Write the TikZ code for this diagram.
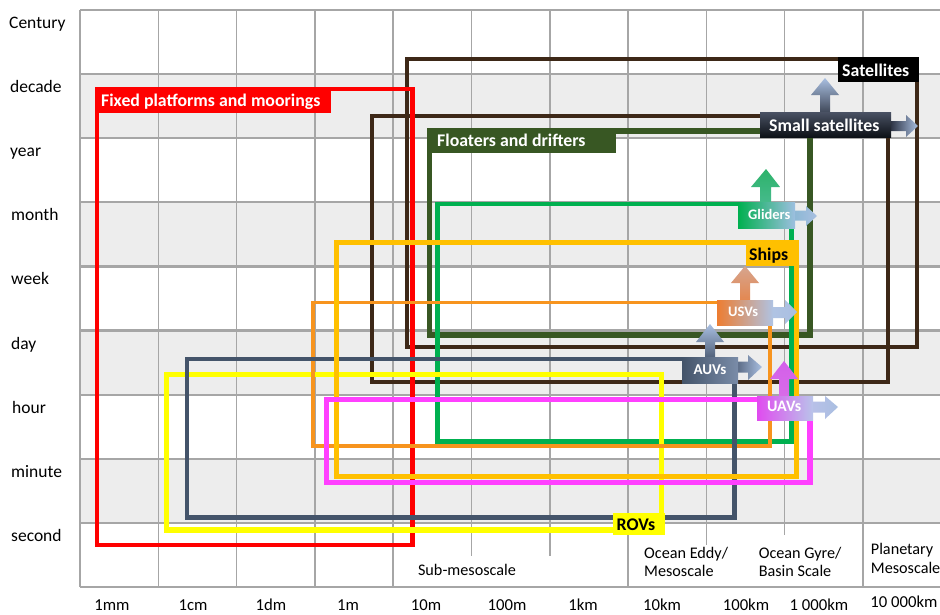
\documentclass[tikz,border=0pt]{standalone}
\usepackage{fontspec}
\setmainfont{Carlito}
\definecolor{gridc}{HTML}{A6A6A6}
\definecolor{rowc}{HTML}{EDEDED}
\definecolor{cred}{HTML}{FF0000}
\definecolor{cbrown}{HTML}{3D2817}
\definecolor{cdkgreen}{HTML}{385723}
\definecolor{cgreen}{HTML}{00B050}
\definecolor{cgold}{HTML}{FFC000}
\definecolor{corange}{HTML}{F7941E}
\definecolor{cnavy}{HTML}{44546A}
\definecolor{cyellow}{HTML}{FFFF00}
\definecolor{cmagenta}{HTML}{FF40FF}
\definecolor{clblue}{HTML}{A9BFE1}
\tikzset{
  rowlab/.style={anchor=base west, inner sep=0pt, font=\fontsize{17.5}{20}\selectfont},
  scalelab/.style={anchor=base, inner sep=0pt, font=\fontsize{16.7}{20}\selectfont},
  regionlab/.style={anchor=base west, inner sep=0pt, font=\fontsize{16.2}{19}\selectfont},
  boldlab/.style={anchor=base west, inner sep=0pt, text=white, font=\bfseries\fontsize{#1}{20}\selectfont},
  boldlab/.default=17.8,
  platform/.style={draw=#1, line join=miter, fill=none},
  gridline/.style={draw=gridc, line width=1.5pt}
}
\begin{document}
\begin{tikzpicture}[x=1pt,y=-1pt]
\useasboundingbox (0,0) rectangle (940,614);
\fill[white] (0,0) rectangle (940,614);
% shaded rows
\foreach \j in {1,3,5,7}
  \fill[rowc] (80,{10+64.1*\j}) rectangle (940,{10+64.1*(\j+1)});
% grid
\foreach \i in {0,...,11}
  \draw[gridline] ({80+78.3*\i},10) -- ({80+78.3*\i},587);
\foreach \j in {1,...,8}
  \draw[gridc, line width=2.2pt] (80,{10+64.1*\j}) -- (940,{10+64.1*\j});
\draw[gridc, line width=1.8pt] (80,10) -- (940,10);
\draw[gridc, line width=1.8pt] (80,587) -- (940,587);
% white backgrounds of the scale labels
\fill[white] (405,556) rectangle (620,585.8);
\fill[white] (636,545) rectangle (738,585.8);
\fill[white] (750,535) rectangle (852,585.8);
% platform rectangles
\draw[platform=cbrown, line width=4pt] (406.5,59) rectangle (917.3,347);
\draw[platform=cbrown, line width=4pt] (371.8,116) rectangle (888.3,381.5);
\draw[platform=cdkgreen, line width=5.5pt] (429.3,131) rectangle (810,335);
\draw[platform=cgreen, line width=4.6pt] (437.7,204) rectangle (791.7,441.7);
\draw[platform=cred, line width=4.7pt] (97,89) rectangle (412.7,545);
\draw[platform=cyellow, line width=5.5pt] (166.7,374.3) rectangle (661.7,530);
\draw[platform=corange, line width=3.6pt] (312.7,302.3) rectangle (770,446);
\draw[platform=cnavy, line width=4.4pt] (186.7,359) rectangle (734.3,517.3);
\draw[platform=cgold, line width=5pt] (336.7,242) rectangle (796.7,476.7);
\draw[platform=cmagenta, line width=5.2pt] (326.7,399.3) rectangle (810,482.3);
% block arrows
% small satellites
\shade[top color=clblue, bottom color={rgb,255:red,62;green,70;blue,86}]
  (820,113) -- (820,95) -- (811,95) -- (825,78) -- (839,95) -- (830,95) -- (830,113) -- cycle;
\shade[left color={rgb,255:red,42;green,48;blue,64}, right color=clblue]
  (890,121) -- (906,121) -- (906,115) -- (918,126) -- (906,137) -- (906,131) -- (890,131) -- cycle;
% gliders
\shade[top color={rgb,255:red,45;green,179;blue,106}, bottom color={rgb,255:red,70;green,186;blue,140}]
  (760,203) -- (760,187) -- (751,187) -- (766,169) -- (780,187) -- (771,187) -- (771,203) -- cycle;
\shade[left color={rgb,255:red,140;green,184;blue,212}, right color=clblue]
  (794,210.7) -- (806,210.7) -- (806,206) -- (817,216) -- (806,226) -- (806,220.7) -- (794,220.7) -- cycle;
% USVs
\shade[top color={rgb,255:red,214;green,165;blue,143}, bottom color={rgb,255:red,228;green,135;blue,79}]
  (740,301) -- (740,283) -- (731,283) -- (745,266) -- (759,283) -- (750,283) -- (750,301) -- cycle;
\shade[left color={rgb,255:red,176;green,195;blue,227}, right color=clblue]
  (772,307) -- (785,307) -- (785,300) -- (797,312) -- (785,324) -- (785,318) -- (772,318) -- cycle;
% AUVs
\shade[top color=clblue, bottom color={rgb,255:red,80;green,96;blue,121}]
  (705,358) -- (705,342) -- (696,342) -- (710,324) -- (724,342) -- (715,342) -- (715,358) -- cycle;
\shade[left color={rgb,255:red,91;green,107;blue,133}, right color=clblue]
  (737,361.7) -- (748,361.7) -- (748,355) -- (762,367) -- (748,380) -- (748,372.7) -- (737,372.7) -- cycle;
% UAVs
\shade[top color={rgb,255:red,211;green,95;blue,234}, bottom color={rgb,255:red,216;green,108;blue,232}]
  (779,397) -- (779,379) -- (770,379) -- (784,361) -- (798,379) -- (789,379) -- (789,397) -- cycle;
\shade[left color={rgb,255:red,184;green,192;blue,232}, right color=clblue]
  (812,401.7) -- (825,401.7) -- (825,396) -- (838,407) -- (825,419) -- (825,412.7) -- (812,412.7) -- cycle;
% label boxes
\fill[cred] (94.6,86.6) rectangle (331,113);
\fill[black] (838,57) rectangle (919.3,82);
\shade[top color={rgb,255:red,74;green,82;blue,100}, bottom color={rgb,255:red,13;green,17;blue,23}] (760,112) rectangle (891,137);
\fill[cdkgreen] (426.5,128.2) rectangle (616,153);
\shade[left color=cgreen, right color={rgb,255:red,157;green,191;blue,224}] (738,202) rectangle (795,228);
\fill[cgold] (746,239.5) rectangle (799.2,266);
\shade[left color={rgb,255:red,237;green,125;blue,49}, right color={rgb,255:red,175;green,195;blue,227}] (717,300) rectangle (773,325);
\shade[left color=cnavy, right color={rgb,255:red,122;green,140;blue,168}] (682,357) rectangle (738,383);
\shade[left color={rgb,255:red,224;green,75;blue,239}, right color={rgb,255:red,185;green,196;blue,234}] (757,396) rectangle (813,420);
\fill[cyellow] (613,513) rectangle (665,534.5);
% label texts
\node[boldlab] (fixed) at (101,106) {Fixed platforms and moorings};
\node[boldlab] (sat) at (842,76.7) {Satellites};
\node[boldlab] (smallsat) at (769,131.7) {Small satellites};
\node[boldlab] (floaters) at (437,146.7) {Floaters and drifters};
\node[boldlab=14.5] (gliders) at (748,219) {Gliders};
\node[boldlab, text=black] (ships) at (749,260.7) {Ships};
\node[boldlab=14.5] (usvs) at (728,316) {USVs};
\node[boldlab=15] (auvs) at (693.3,374) {AUVs};
\node[boldlab=16] (uavs) at (767,411.7) {UAVs};
\node[boldlab, text=black] (rovs) at (616.5,530.3) {ROVs};
% row labels
\node[rowlab] (century) at (9,28.5) {Century};
\node[rowlab] (decade) at (10,92.6) {decade};
\node[rowlab] (year) at (10,156.7) {year};
\node[rowlab] (month) at (11,220.8) {month};
\node[rowlab] (week) at (11,284.9) {week};
\node[rowlab] (day) at (11,349) {day};
\node[rowlab] (hour) at (12,413.1) {hour};
\node[rowlab] (minute) at (11,477.2) {minute};
\node[rowlab] (second) at (11,541.3) {second};
% scale values
\node[scalelab] (s1mm) at (112,610) {1mm};
\node[scalelab] (s1cm) at (193,610) {1cm};
\node[scalelab] (s1dm) at (271,610) {1dm};
\node[scalelab] (s1m) at (348,610) {1m};
\node[scalelab] (s10m) at (426,610) {10m};
\node[scalelab] (s100m) at (507,610) {100m};
\node[scalelab] (s1km) at (583,610) {1km};
\node[scalelab] (s10km) at (662,610) {10km};
\node[scalelab] (s100km) at (746,610) {100km};
\node[scalelab] (s1000km) at (819,610) {1 000km};
\node[scalelab] (s10000km) at (904,607.5) {10 000km};
% regions
\node[regionlab, anchor=base] (submeso) at (467,575.5) {Sub-mesoscale};
\node[regionlab] (eddy1) at (644,558.6) {Ocean Eddy/};
\node[regionlab] (eddy2) at (644,576.5) {Mesoscale};
\node[regionlab] (gyre1) at (758.6,558.6) {Ocean Gyre/};
\node[regionlab] (gyre2) at (758.6,576.5) {Basin Scale};
\node[regionlab] (plan1) at (870.7,554) {Planetary};
\node[regionlab] (plan2) at (870.7,573) {Mesoscale};
\end{tikzpicture}
\end{document}
